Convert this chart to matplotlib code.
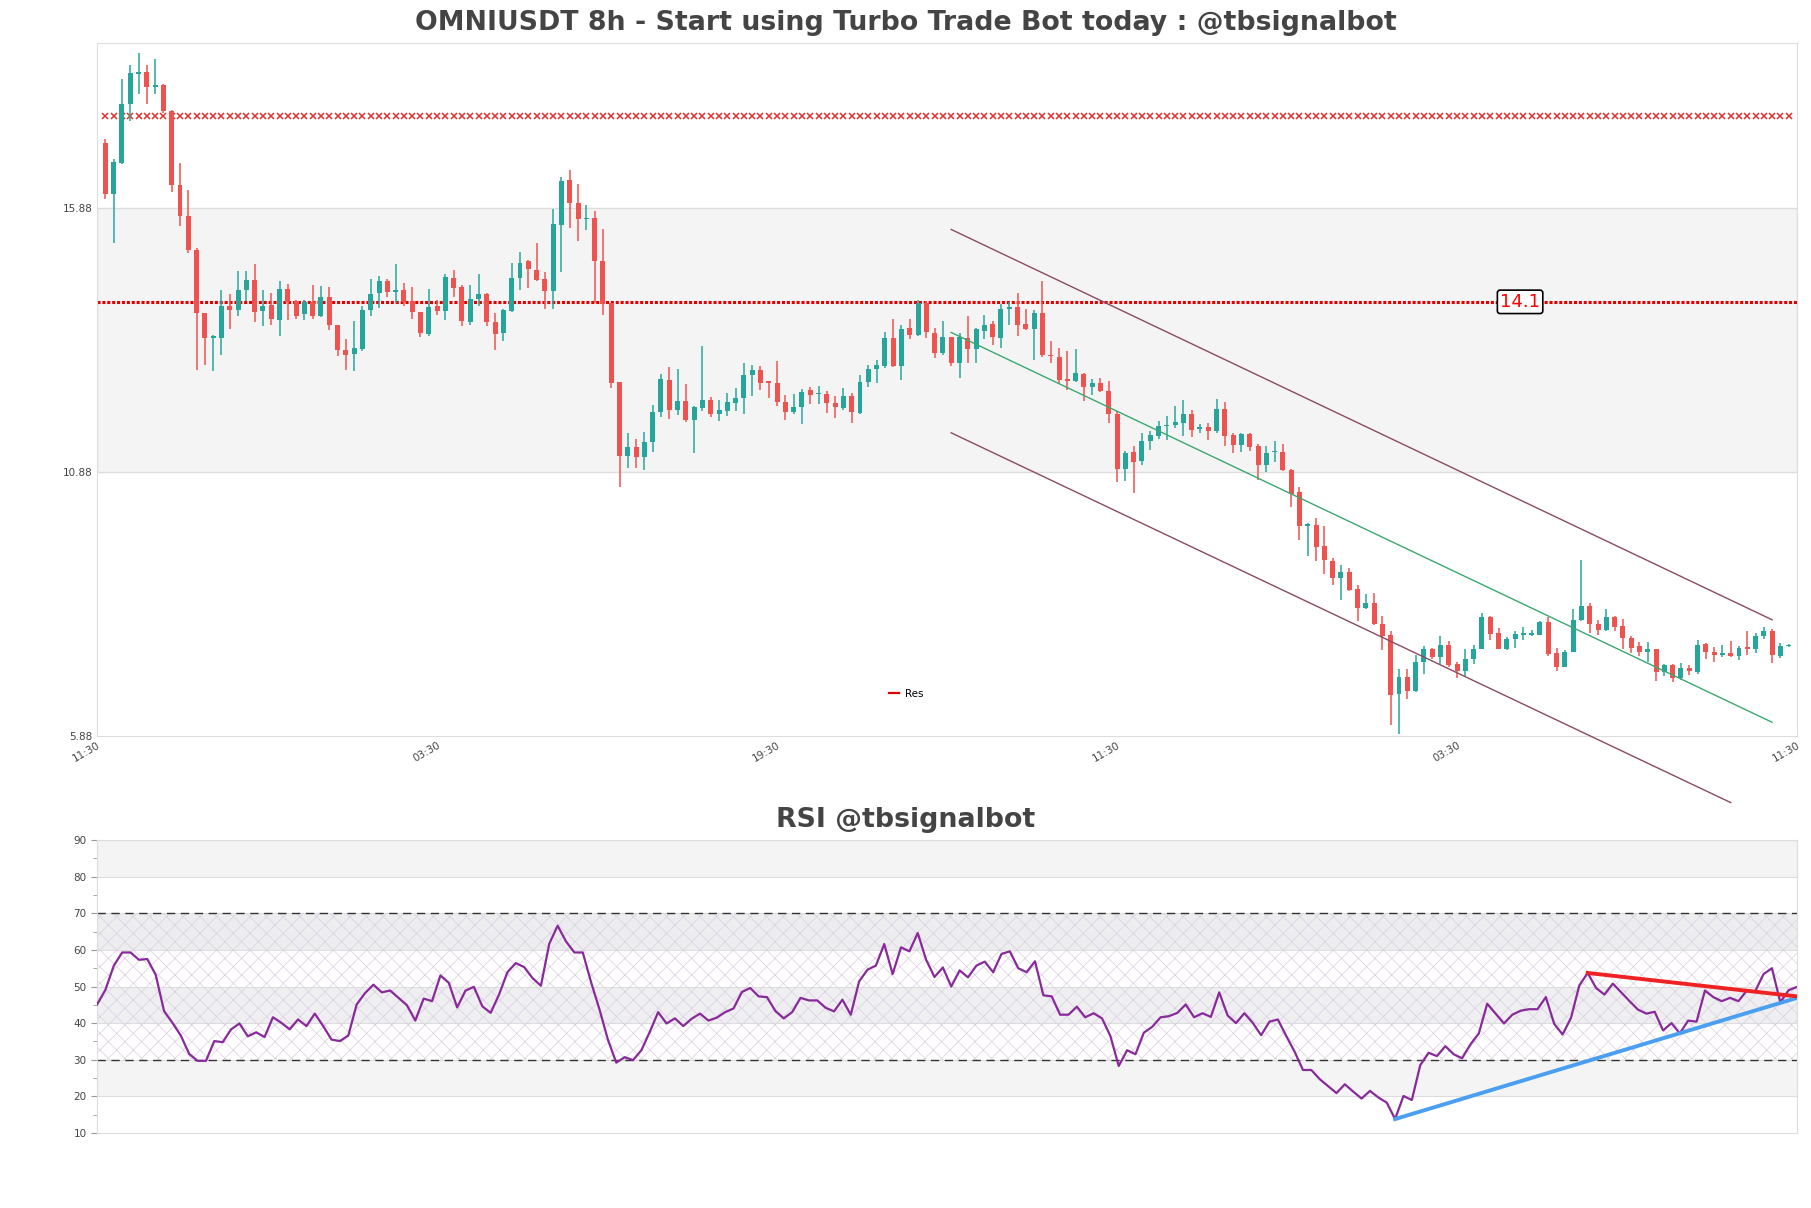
import matplotlib
matplotlib.use("Agg")
from matplotlib import pyplot as plt
import numpy as np

title = "OMNIUSDT 8h - Start using Turbo Trade Bot today : @tbsignalbot"
rsi_title = "RSI @tbsignalbot"

# 8h candles
opens = [
    17.11, 16.15, 16.73, 17.85, 18.42, 18.46, 18.17, 18.20, 17.72, 16.32,
    15.73, 15.09, 13.89, 13.42, 13.42, 14.02, 13.94, 14.32, 14.52, 13.92,
    14.04, 13.75, 14.35, 14.11, 13.87, 14.10, 13.84, 14.19, 13.67, 13.18,
    13.11, 13.21, 13.94, 14.26, 14.50, 14.29, 14.33, 14.11, 13.91, 13.50,
    14.03, 13.92, 14.55, 14.38, 13.71, 14.16, 14.25, 13.72, 13.51, 13.92,
    14.55, 14.87, 14.71, 14.54, 14.30, 15.55, 16.40, 15.97, 15.66, 15.69,
    14.88, 14.08, 12.58, 11.18, 11.35, 11.16, 11.45, 12.01, 12.62, 12.05,
    12.22, 11.87, 12.09, 12.25, 11.97, 12.03, 12.19, 12.28, 12.71, 12.81,
    12.58, 12.57, 12.21, 12.01, 12.10, 12.43, 12.35, 12.36, 12.19, 12.09,
    12.31, 12.00, 12.58, 12.82, 12.88, 13.42, 12.89, 13.61, 13.48, 14.08,
    13.51, 13.13, 13.44, 12.94, 13.41, 13.21, 13.54, 13.68, 13.42, 13.97,
    14.00, 13.68, 13.59, 13.89, 13.10, 13.06, 12.63, 12.60, 12.74, 12.48,
    12.57, 12.42, 11.98, 10.94, 11.25, 11.08, 11.46, 11.56, 11.75, 11.76,
    11.81, 11.98, 11.69, 11.73, 11.65, 12.08, 11.57, 11.39, 11.60, 11.37,
    11.01, 11.26, 11.26, 10.92, 10.50, 9.86, 9.87, 9.47, 9.20, 8.87,
    8.99, 8.67, 8.30, 8.40, 8.00, 7.80, 6.68, 7.00, 6.74, 7.28,
    7.52, 7.38, 7.61, 7.25, 7.12, 7.33, 7.53, 8.13, 7.83, 7.53,
    7.72, 7.80, 7.80, 7.80, 8.03, 7.45, 7.18, 7.48, 8.07, 8.35,
    8.01, 7.88, 8.13, 7.97, 7.74, 7.58, 7.47, 7.52, 7.10, 7.22,
    6.98, 7.16, 7.10, 7.63, 7.48, 7.41, 7.46, 7.39, 7.56, 7.53,
    7.77, 7.87, 7.39, 7.58]
highs = [
    17.19, 16.81, 18.32, 18.58, 18.82, 18.59, 18.69, 18.22, 17.74, 16.72,
    16.21, 15.12, 13.89, 13.48, 14.33, 14.24, 14.69, 14.69, 14.81, 14.32,
    14.27, 14.50, 14.44, 14.13, 14.14, 14.41, 14.40, 14.38, 13.67, 13.40,
    13.73, 14.02, 14.54, 14.59, 14.54, 14.82, 14.46, 14.38, 13.91, 14.35,
    14.13, 14.63, 14.71, 14.41, 14.41, 14.62, 14.26, 13.89, 13.97, 14.83,
    15.05, 14.89, 15.22, 14.67, 15.85, 16.47, 16.59, 16.34, 15.94, 15.82,
    15.47, 14.08, 12.58, 11.62, 11.51, 11.64, 12.14, 12.74, 12.87, 12.83,
    12.55, 12.12, 13.27, 12.30, 12.25, 12.38, 12.47, 12.94, 12.91, 12.88,
    12.58, 12.98, 12.33, 12.36, 12.45, 12.49, 12.50, 12.41, 12.31, 12.47,
    12.38, 12.72, 12.91, 13.00, 13.53, 13.77, 13.67, 13.78, 14.14, 14.11,
    13.61, 13.73, 13.44, 13.51, 13.84, 13.61, 13.86, 13.73, 14.06, 14.09,
    14.27, 13.97, 13.94, 14.49, 13.35, 13.23, 13.17, 13.21, 12.75, 12.63,
    12.66, 12.60, 12.03, 11.27, 11.38, 11.61, 11.66, 11.85, 11.93, 12.12,
    12.24, 12.06, 11.79, 11.80, 12.26, 12.21, 11.62, 11.62, 11.62, 11.40,
    11.37, 11.47, 11.40, 10.94, 10.59, 9.91, 10.01, 9.86, 9.25, 9.12,
    9.06, 8.73, 8.57, 8.59, 8.16, 7.87, 7.14, 7.14, 7.42, 7.59,
    7.55, 7.77, 7.67, 7.29, 7.53, 7.60, 8.20, 8.15, 7.93, 7.75,
    7.86, 7.94, 7.89, 8.06, 8.13, 7.55, 7.50, 8.29, 9.22, 8.40,
    8.07, 8.29, 8.16, 8.10, 7.77, 7.66, 7.66, 7.53, 7.24, 7.25,
    7.26, 7.22, 7.70, 7.64, 7.56, 7.61, 7.67, 7.59, 7.87, 7.84,
    7.94, 7.91, 7.64, 7.63]
lows = [
    16.05, 15.22, 16.71, 17.52, 18.03, 17.85, 18.03, 17.68, 16.18, 15.53,
    15.03, 12.81, 12.91, 12.79, 13.09, 13.58, 13.84, 14.11, 13.71, 13.64,
    13.66, 13.45, 13.75, 13.78, 13.75, 13.78, 13.81, 13.56, 13.07, 12.81,
    12.79, 13.17, 13.84, 13.99, 14.19, 14.08, 14.02, 13.77, 13.44, 13.45,
    13.85, 13.75, 14.19, 13.65, 13.67, 14.02, 13.64, 13.18, 13.36, 13.91,
    14.32, 14.37, 14.50, 13.97, 13.97, 14.66, 15.50, 15.25, 15.46, 14.08,
    13.86, 12.47, 10.59, 10.96, 10.96, 10.91, 11.25, 11.92, 11.88, 11.95,
    11.82, 11.24, 12.03, 11.92, 11.84, 11.93, 12.03, 11.97, 12.31, 12.44,
    12.27, 12.12, 11.86, 11.98, 11.78, 12.16, 12.17, 11.99, 11.90, 12.05,
    11.80, 11.98, 12.48, 12.56, 12.84, 12.86, 12.62, 13.39, 13.46, 13.41,
    13.04, 13.10, 12.89, 12.66, 12.94, 12.94, 13.39, 13.29, 13.23, 13.66,
    13.45, 13.56, 12.99, 13.05, 12.94, 12.57, 12.44, 12.58, 12.22, 12.34,
    12.39, 11.81, 10.68, 10.70, 10.49, 11.02, 11.29, 11.51, 11.49, 11.71,
    11.56, 11.54, 11.61, 11.49, 11.62, 11.38, 11.24, 11.25, 11.27, 10.73,
    10.88, 11.06, 10.89, 10.22, 9.60, 9.28, 9.19, 8.95, 8.73, 8.45,
    8.63, 8.05, 8.29, 7.98, 7.50, 6.09, 5.91, 6.59, 6.71, 7.06,
    7.34, 7.25, 7.19, 6.97, 7.01, 7.25, 7.52, 7.69, 7.52, 7.50,
    7.55, 7.70, 7.77, 7.79, 7.40, 7.12, 7.18, 7.48, 8.06, 7.83,
    7.79, 7.86, 7.86, 7.52, 7.45, 7.40, 7.29, 6.93, 7.01, 6.90,
    6.95, 7.03, 7.06, 7.34, 7.28, 7.38, 7.38, 7.31, 7.42, 7.45,
    7.72, 7.26, 7.36, 7.56]
closes = [
    16.15, 16.75, 17.84, 18.44, 18.44, 18.17, 18.20, 17.71, 16.31, 15.72,
    15.08, 13.89, 13.42, 13.43, 14.02, 13.95, 14.33, 14.52, 13.90, 14.02,
    13.77, 14.35, 14.10, 13.84, 14.10, 13.84, 14.19, 13.67, 13.18, 13.09,
    13.23, 13.95, 14.25, 14.49, 14.28, 14.33, 14.10, 13.90, 13.51, 14.00,
    13.92, 14.57, 14.37, 13.73, 14.16, 14.25, 13.71, 13.50, 13.94, 14.55,
    14.84, 14.72, 14.52, 14.30, 15.58, 16.38, 15.97, 15.66, 15.68, 14.87,
    14.06, 12.57, 11.18, 11.35, 11.16, 11.45, 12.02, 12.63, 12.05, 12.23,
    11.87, 12.11, 12.25, 11.97, 12.06, 12.21, 12.28, 12.72, 12.81, 12.57,
    12.57, 12.20, 12.01, 12.11, 12.40, 12.34, 12.36, 12.19, 12.10, 12.31,
    12.01, 12.58, 12.83, 12.90, 13.42, 12.88, 13.59, 13.48, 14.08, 13.53,
    13.13, 13.44, 12.94, 13.44, 13.21, 13.58, 13.67, 13.43, 13.97, 14.00,
    13.66, 13.58, 13.88, 13.10, 13.07, 12.62, 12.60, 12.75, 12.48, 12.57,
    12.41, 11.98, 10.94, 11.24, 11.07, 11.46, 11.57, 11.74, 11.76, 11.83,
    11.98, 11.68, 11.73, 11.65, 12.08, 11.56, 11.39, 11.60, 11.35, 11.02,
    11.24, 11.27, 10.92, 10.46, 9.85, 9.87, 9.46, 9.22, 8.87, 8.99,
    8.65, 8.30, 8.40, 8.01, 7.78, 6.65, 7.00, 6.73, 7.28, 7.52,
    7.38, 7.61, 7.23, 7.12, 7.34, 7.53, 8.13, 7.82, 7.53, 7.72,
    7.81, 7.81, 7.81, 8.03, 7.44, 7.18, 7.47, 8.08, 8.35, 8.00,
    7.88, 8.13, 7.94, 7.74, 7.55, 7.47, 7.52, 7.10, 7.22, 6.98,
    7.16, 7.12, 7.61, 7.48, 7.42, 7.46, 7.39, 7.55, 7.53, 7.78,
    7.86, 7.41, 7.58, 7.61]

rsi = [
    45.1, 49.1, 55.7, 59.3, 59.3, 57.3, 57.5, 53.2, 43.3, 40.1,
    36.6, 31.6, 29.7, 29.7, 35.1, 34.8, 38.3, 39.9, 36.4, 37.5,
    36.2, 41.6, 40.1, 38.3, 41.0, 39.2, 42.6, 39.2, 35.5, 35.1,
    36.6, 45.1, 48.2, 50.5, 48.4, 48.9, 46.9, 44.9, 40.7, 46.7,
    46.0, 53.0, 51.0, 44.3, 48.9, 49.9, 44.6, 42.8, 47.8, 53.9,
    56.4, 55.3, 52.3, 50.2, 61.7, 66.6, 62.3, 59.3, 59.3, 51.1,
    43.7, 35.5, 29.2, 30.7, 29.9, 32.6, 37.6, 43.0, 39.9, 41.3,
    39.2, 41.2, 42.6, 40.7, 41.5, 43.0, 44.0, 48.5, 49.6, 47.3,
    47.1, 43.3, 41.3, 43.0, 46.9, 46.2, 46.2, 44.2, 43.2, 46.4,
    42.3, 51.4, 54.6, 55.7, 61.6, 53.4, 60.7, 59.6, 64.6, 57.3,
    52.6, 55.2, 50.0, 54.4, 52.5, 55.7, 56.8, 53.9, 58.9, 59.6,
    55.0, 53.9, 56.9, 47.6, 47.3, 42.3, 42.3, 44.5, 41.6, 42.7,
    41.3, 36.5, 28.3, 32.6, 31.5, 37.4, 39.0, 41.6, 41.9, 42.8,
    45.1, 41.6, 42.7, 41.7, 48.4, 42.1, 40.0, 42.7, 40.1, 36.7,
    40.4, 41.0, 36.5, 32.2, 27.2, 27.2, 24.7, 22.8, 20.9, 23.3,
    21.3, 19.4, 21.5, 19.7, 18.3, 13.8, 20.1, 19.0, 28.5, 31.9,
    31.0, 33.7, 31.5, 30.4, 34.2, 37.2, 45.3, 42.6, 39.9, 42.3,
    43.4, 43.8, 43.8, 47.1, 39.8, 36.9, 41.4, 50.3, 53.7, 49.6,
    47.8, 50.8, 48.4, 46.0, 43.7, 42.6, 43.1, 38.0, 40.0, 37.2,
    40.7, 40.4, 48.9, 47.1, 46.0, 46.9, 46.0, 48.9, 48.7, 53.4,
    55.0, 45.7, 49.0, 49.9]

time_labels = ["11:30", "03:30", "19:30", "11:30", "03:30", "11:30"]
price_ticks = [5.88, 10.88, 15.88]
zone = [10.88, 15.88]
res_level = 14.1
top_level = 17.62
# channel: start index, end index, upper / middle / lower price at start and end
chan_x = [102, 201]
chan_upper = [15.47, 8.08]
chan_mid = [13.52, 6.14]
chan_lower_x = [102, 196]
chan_lower = [11.62, 4.62]
rsi_up_x, rsi_up_y = [155, 203], [13.8, 46.9]
rsi_dn_x, rsi_dn_y = [178, 203], [53.7, 47.3]

GREEN = '#26a69a'
RED = '#ef5350'
TXT = '#444444'
SPINE = '#dddddd'

plt.rcParams['hatch.linewidth'] = 0.5
fig = plt.figure(figsize=(18.11, 12.08), dpi=100)
ax = fig.add_axes([0.0536, 0.3907, 0.9387, 0.5737])
ax2 = fig.add_axes([0.0536, 0.0621, 0.9387, 0.2425])

n = len(opens)
x = np.arange(n)
o = np.array(opens)
c = np.array(closes)
up = c >= o
colors = np.where(up, GREEN, RED)

# candles
ax.vlines(x, lows, highs, colors=colors, linewidth=1.1, zorder=3)
body_lo = np.minimum(o, c)
body_h = np.maximum(np.abs(c - o), 0.025)
ax.bar(x, body_h, bottom=body_lo, width=0.6, color=colors, linewidth=0, zorder=4)

ax.axhspan(zone[0], zone[1], facecolor='#f4f4f4', edgecolor=SPINE, linewidth=1, zorder=0)

ax.axhline(res_level, color='#e00000', linewidth=2.2, linestyle=(0, (1, 0.6)), zorder=2)
ax.plot([], [], color='#e00000', linewidth=1.6, label='Res')
ax.text(170.6, res_level, "%.1f" % res_level, color='#ff0000', fontsize=13, ha='center', va='center',
        bbox=dict(boxstyle='round,pad=0.15', facecolor='white', edgecolor='black', linewidth=1.2), zorder=6)
ax.plot(x, np.full(n, top_level), linestyle='none', marker='x', markersize=4,
        markeredgewidth=1.1, color='#e03030', zorder=2)

chan_col = '#8a4a60'
ax.plot(chan_x, chan_upper, color=chan_col, linewidth=1, zorder=5)
ax.plot(chan_x, chan_mid, color='#3aa870', linewidth=1, zorder=5)
ax.plot(chan_lower_x, chan_lower, color=chan_col, linewidth=1, zorder=5, clip_on=False)

ax.set_xlim(-1, n)
ax.set_ylim(5.88, 19.0)
ax.set_yticks(price_ticks)
ax.set_yticklabels(["%.2f" % v for v in price_ticks])
ax.set_xticks(np.linspace(-1, n, len(time_labels)))
ax.set_xticklabels(time_labels, rotation=30, ha='right', rotation_mode='anchor')
ax.tick_params(axis='both', length=0, labelsize=7.5, labelcolor=TXT, pad=3)
for s in ax.spines.values():
    s.set_color(SPINE)
leg = ax.legend(loc='lower center', bbox_to_anchor=(0.476, 0.04), frameon=False, fontsize=7.5,
                handlelength=1.0, handletextpad=0.6)

# RSI panel
for lo_, hi_, fc in [(80, 90, '#f4f4f4'), (60, 70, '#ededf0'), (40, 50, '#efeff2'), (20, 30, '#f4f4f4')]:
    ax2.axhspan(lo_, hi_, facecolor=fc, edgecolor=SPINE, linewidth=0.8, zorder=0)
ax2.axhspan(30, 70, facecolor='none', edgecolor='#d9cfe0', hatch='xx', linewidth=0, zorder=0.5)
ax2.axhline(70, color='#333333', linewidth=1, linestyle=(0, (6, 4)), zorder=2)
ax2.axhline(30, color='#333333', linewidth=1, linestyle=(0, (6, 4)), zorder=2)
ax2.plot(x, rsi, color='#882a99', linewidth=1.6, zorder=3)
ax2.plot(rsi_up_x, rsi_up_y, color='#4a9ff0', linewidth=2.8, zorder=4)
ax2.plot(rsi_dn_x, rsi_dn_y, color='#ee2222', linewidth=2.8, zorder=4)
ax2.set_xlim(0, n - 1)
ax2.set_ylim(10, 90)
ax2.set_yticks(np.arange(10, 91, 10))
ax2.set_yticks(np.arange(15, 90, 10), minor=True)
ax2.set_xticks([])
ax2.tick_params(axis='y', which='major', length=4, color='#999999', labelsize=7.5, labelcolor=TXT)
ax2.tick_params(axis='y', which='minor', length=3, color='#999999')
for s in ax2.spines.values():
    s.set_color(SPINE)

fig.text(0.5, 0.981, title, ha='center', va='center', fontsize=19.3, fontweight='bold', color=TXT)
fig.text(0.5, 0.321, rsi_title, ha='center', va='center', fontsize=19.3, fontweight='bold', color=TXT)

fig.savefig('out.png', dpi=100)
